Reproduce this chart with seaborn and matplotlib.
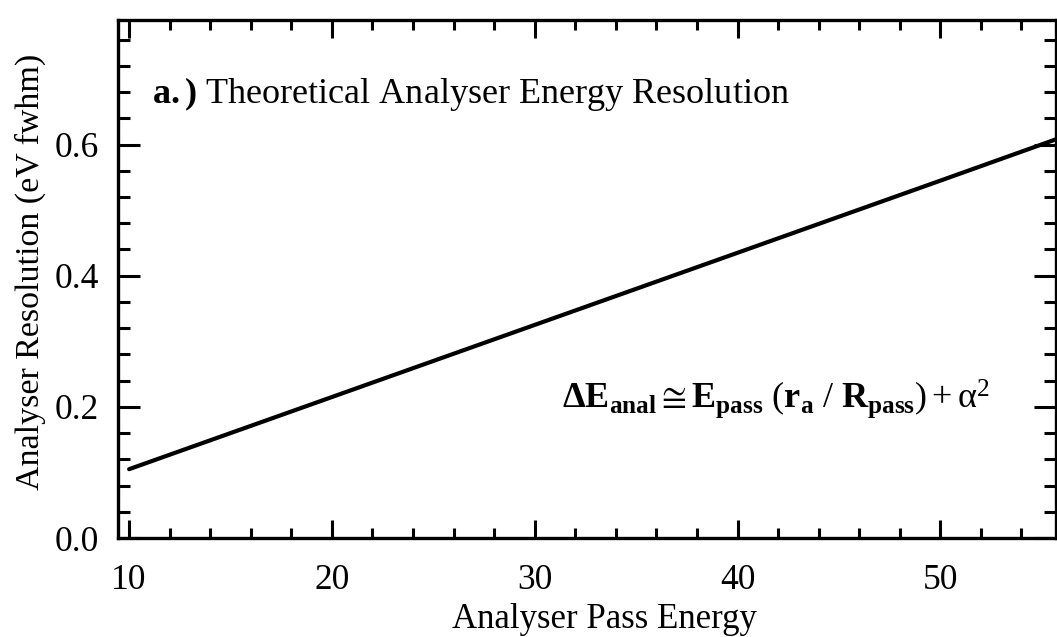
import matplotlib
matplotlib.use("Agg")
import matplotlib.pyplot as plt
from matplotlib.ticker import MultipleLocator
import numpy as np
import pandas as pd
import seaborn as sns

# Analyser pass energy (eV) and the resulting theoretical resolution (eV fwhm)
pass_energy = [10, 20, 30, 40, 50, 55.7]
resolution = [0.105, 0.215, 0.325, 0.435, 0.545, 0.608]

x_ticks = [10, 20, 30, 40, 50]
y_ticks = [0.0, 0.2, 0.4, 0.6]

sns.set_theme(style="ticks")
plt.rcParams["font.family"] = ["Liberation Serif", "DejaVu Serif"]
plt.rcParams["mathtext.fontset"] = "custom"
plt.rcParams["mathtext.rm"] = "Liberation Serif"
plt.rcParams["mathtext.bf"] = "Liberation Serif:bold"
plt.rcParams["mathtext.it"] = "Liberation Serif:italic"

df = pd.DataFrame({"Analyser Pass Energy": pass_energy,
                   "Analyser Resolution (eV fwhm)": resolution})

fig = plt.figure(figsize=(10.57, 6.37), dpi=100)
ax = fig.add_axes([0.1116, 0.1554, 0.8874, 0.8132])

sns.lineplot(data=df, x="Analyser Pass Energy", y="Analyser Resolution (eV fwhm)",
             ax=ax, color="black", linewidth=3.0)

ax.set_xlim(9.45, 55.7)
ax.set_ylim(0.0, 0.79)
ax.set_xticks(x_ticks)
ax.set_yticks(y_ticks)
ax.set_yticklabels([f"{v:.1f}" for v in y_ticks])
ax.xaxis.set_minor_locator(MultipleLocator(2))
ax.yaxis.set_minor_locator(MultipleLocator(0.04))

for side in ["left", "right", "top", "bottom"]:
    ax.spines[side].set_visible(True)
    ax.spines[side].set_linewidth(2.4)
    ax.spines[side].set_color("black")

ax.tick_params(which="both", direction="in", top=True, right=True,
               colors="black", width=2.2, labelsize=25.5)
ax.tick_params(axis="x", which="major", length=13, pad=19)
ax.tick_params(axis="x", which="minor", length=7)
ax.tick_params(axis="y", which="major", length=16, pad=14)
ax.tick_params(axis="y", which="minor", length=8.5)

ax.set_xlabel("Analyser Pass Energy", fontsize=25, labelpad=4, color="black")
ax.set_ylabel("Analyser Resolution (eV fwhm)", fontsize=24.5, labelpad=6, color="black")
ax.xaxis.label.set_x(0.519)
ax.yaxis.label.set_y(0.513)

ax.text(0.036, 0.84, r"$\mathbf{a.)}$ Theoretical Analyser Energy Resolution",
        transform=ax.transAxes, fontsize=26, color="black", ha="left", va="baseline")

ax.text(0.93, 0.251,
        r"$\mathbf{\Delta E}_{\mathbf{anal}} \cong \mathbf{E}_{\mathbf{pass}}\ "
        r"(\mathbf{r}_{\mathbf{a}}\ /\ \mathbf{R}_{\mathbf{pass}}) + \mathrm{α}^{2}$",
        transform=ax.transAxes, fontsize=26, color="black", ha="right", va="baseline")

fig.savefig("out.png", dpi=100, facecolor="white")
